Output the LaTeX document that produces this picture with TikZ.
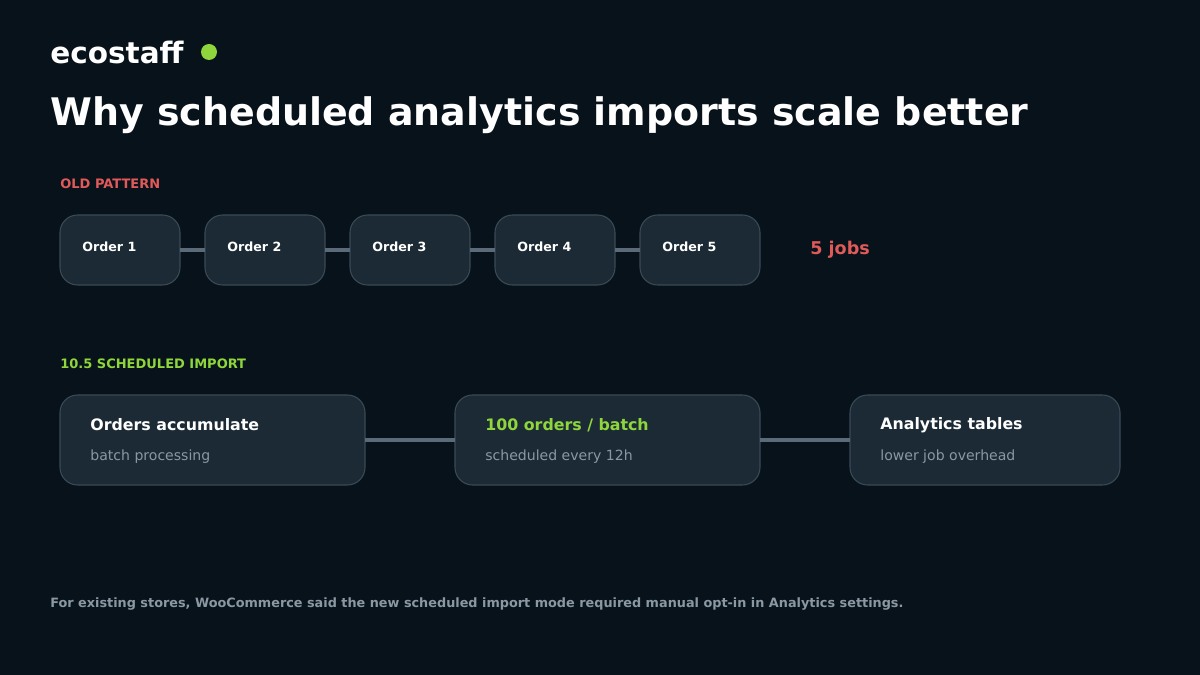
\documentclass[tikz,border=0pt]{standalone}
\usepackage{fontspec}
\setmainfont{DejaVu Sans}
\usetikzlibrary{positioning}
\definecolor{bgc}{HTML}{08121A}
\definecolor{boxc}{HTML}{1B2A35}
\definecolor{edgec}{HTML}{3A4A56}
\definecolor{linkc}{HTML}{5A6A78}
\definecolor{redc}{HTML}{E05A5A}
\definecolor{greenc}{HTML}{8ED63C}
\definecolor{grayc}{HTML}{8A98A4}
\tikzset{
  box/.style={draw=edgec, fill=boxc, rounded corners=10pt, line width=0.6pt},
  link/.style={draw=linkc, line width=2pt},
  small/.style={text=white, font=\bfseries\fontsize{7.2}{9}\selectfont, anchor=west},
  head/.style={font=\bfseries\fontsize{9}{11}\selectfont, anchor=west},
  sub/.style={text=grayc, font=\fontsize{8}{10}\selectfont, anchor=west},
}
\begin{document}
\begin{tikzpicture}[x=0.02cm,y=-0.02cm]
  \fill[bgc] (0,0) rectangle (1200,675);
  \useasboundingbox (0,0) rectangle (1200,675);
  % header
  \node[anchor=west, text=white, font=\bfseries\fontsize{16.8}{18}\selectfont, inner sep=0] (brand) at (50,53) {ecostaff};
  \fill[greenc] (209,52) circle (8);
  \node[anchor=west, text=white, font=\bfseries\fontsize{21.6}{24}\selectfont, inner sep=0] (title) at (50,115) {Why scheduled analytics imports scale better};
  % old pattern
  \node[anchor=west, text=redc, font=\bfseries\fontsize{7.4}{9}\selectfont, inner sep=0] (oldlbl) at (60,184) {OLD PATTERN};
  \foreach \i in {1,...,5} {
    \pgfmathsetmacro{\xl}{60+145*(\i-1)}
    \draw[box] (\xl,215) rectangle ++(120,70);
    \coordinate (o\i w) at (\xl,250);
    \coordinate (o\i e) at (\xl+120,250);
    \node[small, inner sep=0] (o\i) at (\xl+22,247) {Order \i};
  }
  \foreach \i/\j in {1/2,2/3,3/4,4/5}
    \draw[link] (o\i e) -- (o\j w);
  \node[anchor=west, text=redc, font=\bfseries\fontsize{10}{12}\selectfont, inner sep=0] (jobs) at (810,250) {5 jobs};
  % scheduled import
  \node[anchor=west, text=greenc, font=\bfseries\fontsize{7.4}{9}\selectfont, inner sep=0] (newlbl) at (60,364) {10.5 SCHEDULED IMPORT};
  \draw[box] (60,395) rectangle (365,485);
  \draw[box] (455,395) rectangle (760,485);
  \draw[box] (850,395) rectangle (1120,485);
  \coordinate (b1e) at (365,440);
  \coordinate (b2w) at (455,440);
  \coordinate (b2e) at (760,440);
  \coordinate (b3w) at (850,440);
  \draw[link] (b1e) -- (b2w);
  \draw[link] (b2e) -- (b3w);
  \node[head, text=white, inner sep=0] (h1) at (90,425) {Orders accumulate};
  \node[sub, inner sep=0] (s1) at (90,457) {batch processing};
  \node[head, text=greenc, inner sep=0] (h2) at (485,425) {100 orders / batch};
  \node[sub, inner sep=0] (s2) at (485,457) {scheduled every 12h};
  \node[head, text=white, inner sep=0] (h3) at (880,425) {Analytics tables};
  \node[sub, inner sep=0] (s3) at (880,457) {lower job overhead};
  % footer
  \node[anchor=west, text=grayc, font=\bfseries\fontsize{7.3}{9}\selectfont, inner sep=0] (foot) at (50,604) {For existing stores, WooCommerce said the new scheduled import mode required manual opt-in in Analytics settings.};
\end{tikzpicture}
\end{document}
